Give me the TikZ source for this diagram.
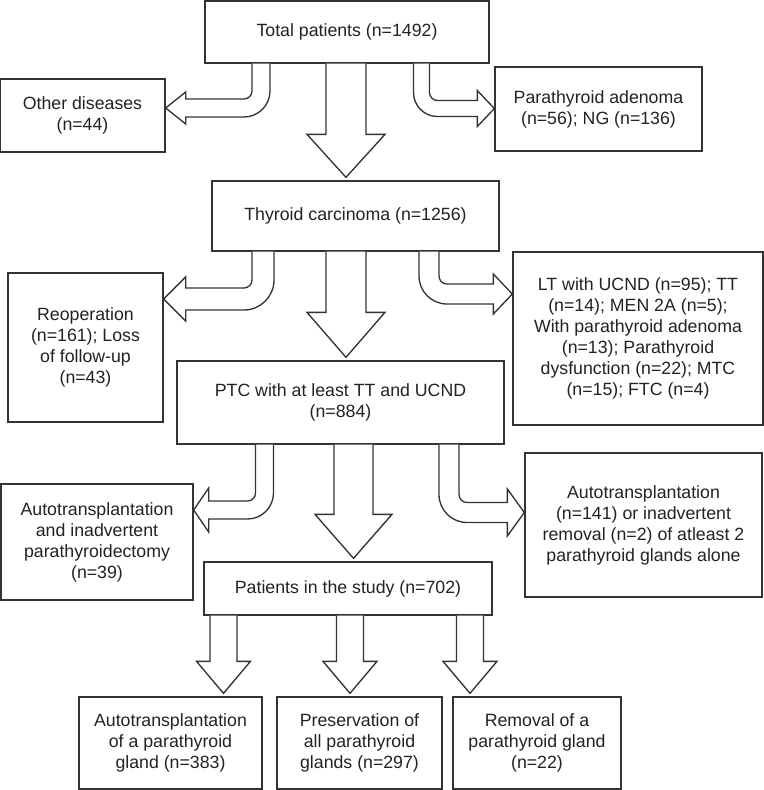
\documentclass[tikz,border=0pt]{standalone}
\usepackage{fontspec}
\setmainfont{Liberation Sans}
\usetikzlibrary{calc}
\definecolor{linegray}{RGB}{51,51,51}
\definecolor{textgray}{RGB}{34,34,34}
\tikzset{
  box/.style={draw=linegray, line width=1pt, align=center, inner sep=0pt,
    text=textgray, font=\fontsize{13.3}{15.75}\selectfont},
  boxsize/.style 2 args={minimum width=#1*0.75pt, minimum height=#2*0.75pt},
  fat/.style={draw=linegray, line width=1pt, fill=white, line join=miter}
}
% block arrow straight down: from, to, x, shaft half width, head half width, head length
\newcommand{\fatdown}[6]{%
  \coordinate (fx) at (#3,0);
  \draw[fat] ($(#1.south -| fx)+(-#4,0)$) -- ($(#2.north -| fx)+(-#4,-#6-3)$)
    -- ($(#2.north -| fx)+(-#5,-#6-3)$) -- ($(#2.north -| fx)+(0,-3)$)
    -- ($(#2.north -| fx)+(#5,-#6-3)$) -- ($(#2.north -| fx)+(#4,-#6-3)$)
    -- ($(#1.south -| fx)+(#4,0)$);}
% bent block arrows: from, to, shaft x, band y, half width, head half width, head length
\newcommand{\bendleft}[7]{%
  \coordinate (bc) at (#3,#4);
  \draw[fat] ($(#1.south -| bc)+(-#5,0)$) [rounded corners=6pt] -- ($(bc)+(-#5,-#5)$)
    [sharp corners] -- ($(#2.east |- bc)+(#7,-#5)$) -- ($(#2.east |- bc)+(#7,-#6)$)
    -- (#2.east |- bc) -- ($(#2.east |- bc)+(#7,#6)$) -- ($(#2.east |- bc)+(#7,#5)$)
    [rounded corners={(8+2*#5)*0.75pt}] -- ($(bc)+(#5,#5)$)
    [sharp corners] -- ($(#1.south -| bc)+(#5,0)$);}
\newcommand{\bendright}[7]{%
  \coordinate (bc) at (#3,#4);
  \draw[fat] ($(#1.south -| bc)+(#5,0)$) [rounded corners=6pt] -- ($(bc)+(#5,-#5)$)
    [sharp corners] -- ($(#2.west |- bc)+(-#7,-#5)$) -- ($(#2.west |- bc)+(-#7,-#6)$)
    -- (#2.west |- bc) -- ($(#2.west |- bc)+(-#7,#6)$) -- ($(#2.west |- bc)+(-#7,#5)$)
    [rounded corners={(8+2*#5)*0.75pt}] -- ($(bc)+(-#5,#5)$)
    [sharp corners] -- ($(#1.south -| bc)+(-#5,0)$);}
\begin{document}
\begin{tikzpicture}[x=0.75pt,y=-0.75pt]
  \useasboundingbox (0,0) rectangle (764,790);

  % main column
  \node[box, boxsize={284}{62}] (tot) at (347,32) {Total patients (n=1492)};
  \node[box, boxsize={287}{70}] (thy) at (355.5,216) {Thyroid carcinoma (n=1256)};
  \node[box, boxsize={327}{83}] (ptc) at (340.5,402.5) {PTC with at least TT and UCND\\(n=884)};
  \node[box, boxsize={288}{53}] (pat) at (348,588.5) {Patients in the study (n=702)};

  % excluded
  \node[box, boxsize={165}{73}] (oth) at (82.5,115.5) {Other diseases\\(n=44)};
  \node[box, boxsize={207}{84}] (par) at (598.5,109) {Parathyroid adenoma\\(n=56); NG (n=136)};
  \node[box, boxsize={155}{149}] (reop) at (85.5,347.5) {Reoperation\\(n=161); Loss\\of follow-up\\(n=43)};
  \node[box, boxsize={250}{173}] (lt) at (638,338.5) {LT with UCND (n=95); TT\\(n=14); MEN 2A (n=5);\\With parathyroid adenoma\\(n=13); Parathyroid\\dysfunction (n=22); MTC\\(n=15); FTC (n=4)};
  \node[box, boxsize={192}{116}] (autoL) at (97,542) {Autotransplantation\\and inadvertent\\parathyroidectomy\\(n=39)};
  \node[box, boxsize={237}{144}] (autoR) at (643.5,525) {Autotransplantation\\(n=141) or inadvertent\\removal (n=2) of atleast 2\\parathyroid glands alone};

  % groups
  \node[box, boxsize={183}{92}] (g1) at (170.5,743) {Autotransplantation\\of a parathyroid\\gland (n=383)};
  \node[box, boxsize={165}{92}] (g2) at (359.5,743) {Preservation of\\all parathyroid\\glands (n=297)};
  \node[box, boxsize={168}{92}] (g3) at (537,743) {Removal of a\\parathyroid gland\\(n=22)};

  % arrows
  \fatdown{tot}{thy}{346}{20}{39}{43}
  \fatdown{thy}{ptc}{346}{20}{39}{45}
  \fatdown{ptc}{pat}{353.5}{19.5}{38.5}{44}
  \foreach \g/\x in {g1/223.5, g2/350, g3/470}{
    \fatdown{pat}{\g}{\x}{13.5}{27}{32}
  }
  \bendleft{tot}{oth}{261}{108}{9}{16}{20}
  \bendright{tot}{par}{421.5}{108.5}{8}{18}{17}
  \bendleft{thy}{reop}{263}{299}{11}{22}{22}
  \bendright{thy}{lt}{429}{294}{10}{20}{19}
  \bendleft{ptc}{autoL}{264.5}{510}{9}{22}{15}
  \bendright{ptc}{autoR}{449}{512.5}{10}{23.5}{17}
\end{tikzpicture}
\end{document}
